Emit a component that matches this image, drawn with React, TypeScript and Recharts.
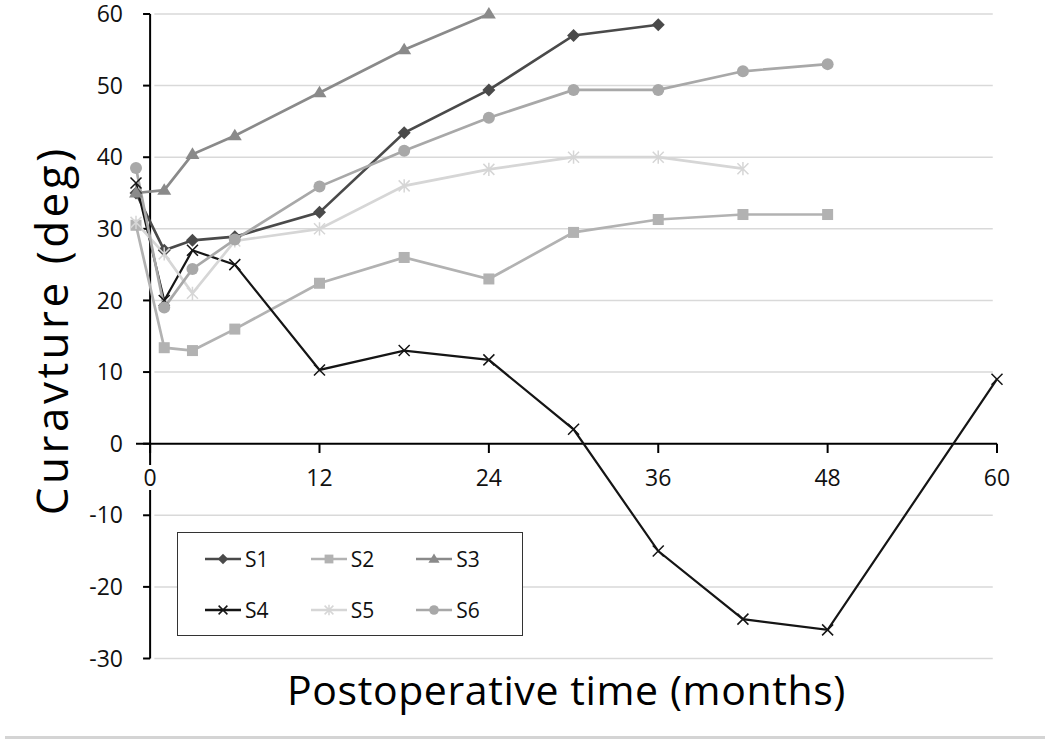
import React from 'react';
import { LineChart, Line, XAxis, YAxis, ReferenceLine, Legend } from 'recharts';

// months after surgery (-1 = preoperative)
const months = [-1, 1, 3, 6, 12, 18, 24, 30, 36, 42, 48, 60];
const s1 = [35, 27, 28.4, 28.9, 32.3, 43.4, 49.4, 57, 58.5, null, null, null];
const s2 = [30.5, 13.4, 13, 16, 22.4, 26, 23, 29.5, 31.3, 32, 32, null];
const s3 = [35, 35.4, 40.4, 43, 49, 55, 60, null, null, null, null, null];
const s4 = [36.4, 20, 27, 25, 10.3, 13, 11.7, 2, -15, -24.5, -26, 9];
const s5 = [30.9, 26.5, 21, 28.3, 30, 36, 38.3, 40, 40, 38.4, null, null];
const s6 = [38.5, 19, 24.4, 28.5, 35.9, 40.9, 45.5, 49.4, 49.4, 52, 53, null];

const xTicks = [0, 12, 24, 36, 48, 60];
const yTicks = [-30, -20, -10, 0, 10, 20, 30, 40, 50, 60];

const data = months.map((m, i) => ({
  m,
  S1: s1[i],
  S2: s2[i],
  S3: s3[i],
  S4: s4[i],
  S5: s5[i],
  S6: s6[i],
}));

const FONT = '"Open Sans", sans-serif';

type Shape = 'diamond' | 'square' | 'triangle' | 'x' | 'star' | 'circle';

const series: { key: string; color: string; shape: Shape; width: number }[] = [
  { key: 'S1', color: '#4a4a4a', shape: 'diamond', width: 2.7 },
  { key: 'S2', color: '#b2b2b2', shape: 'square', width: 2.7 },
  { key: 'S3', color: '#8a8a8a', shape: 'triangle', width: 2.7 },
  { key: 'S4', color: '#151515', shape: 'x', width: 2.2 },
  { key: 'S5', color: '#d6d6d6', shape: 'star', width: 2.7 },
  { key: 'S6', color: '#a8a8a8', shape: 'circle', width: 2.7 },
];

function Marker({ shape, color, cx, cy, s = 1 }: { shape: Shape; color: string; cx: number; cy: number; s?: number }) {
  switch (shape) {
    case 'diamond': {
      const r = 6.5 * s;
      return <path d={`M${cx},${cy - r}L${cx + r},${cy}L${cx},${cy + r}L${cx - r},${cy}Z`} fill={color} />;
    }
    case 'square': {
      const r = 5.5 * s;
      return <rect x={cx - r} y={cy - r} width={2 * r} height={2 * r} fill={color} />;
    }
    case 'triangle': {
      const r = 7 * s;
      return <path d={`M${cx},${cy - r}L${cx + r},${cy + r * 0.65}L${cx - r},${cy + r * 0.65}Z`} fill={color} />;
    }
    case 'circle':
      return <circle cx={cx} cy={cy} r={6 * s} fill={color} />;
    case 'x': {
      const r = 5.5 * s;
      return (
        <path d={`M${cx - r},${cy - r}L${cx + r},${cy + r}M${cx - r},${cy + r}L${cx + r},${cy - r}`} stroke={color} strokeWidth={1.5} />
      );
    }
    case 'star': {
      const r = 5.5 * s;
      return (
        <path
          d={`M${cx - r},${cy - r}L${cx + r},${cy + r}M${cx - r},${cy + r}L${cx + r},${cy - r}M${cx},${cy - r * 1.2}L${cx},${cy + r * 1.2}`}
          stroke={color}
          strokeWidth={1.5}
        />
      );
    }
  }
  return null;
}

function makeDot(shape: Shape, color: string) {
  return (props: any) => {
    const { cx, cy, value, index } = props;
    if (value == null || cx == null || cy == null) return <g key={index} />;
    return (
      <g key={index}>
        <Marker shape={shape} color={color} cx={cx} cy={cy} />
      </g>
    );
  };
}

function LegendBox() {
  return (
    <div
      style={{
        width: 346,
        height: 104,
        border: '1.5px solid #333',
        background: '#fff',
        display: 'grid',
        gridTemplateColumns: 'repeat(3, 1fr)',
        alignItems: 'center',
        paddingLeft: 27,
        boxSizing: 'border-box',
        fontFamily: FONT,
        fontSize: 21,
        lineHeight: '24px',
        color: '#111',
      }}
    >
      {series.map((s) => (
        <div key={s.key} style={{ display: 'flex', alignItems: 'center' }}>
          <svg width={36} height={16} style={{ marginRight: 4 }}>
            <line x1={0} y1={8} x2={36} y2={8} stroke={s.color} strokeWidth={2.5} />
            <Marker shape={s.shape} color={s.color} cx={18} cy={8} s={0.8} />
          </svg>
          <span style={{ fontSize: 21 }}>{s.key}</span>
        </div>
      ))}
    </div>
  );
}

export default function App() {
  return (
    <div style={{ position: 'absolute', left: 0, top: 0, width: 1050, height: 743, background: '#fff' }}>
      <LineChart width={1050} height={743} data={data} margin={{ top: 14, right: 53, bottom: 0, left: 0 }}>
        {yTicks
          .filter((v) => v !== 0)
          .map((v) => (
            <ReferenceLine
              key={`g${v}`}
              segment={[
                { x: 0.3, y: v },
                { x: 59.7, y: v },
              ]}
              stroke="#d9d9d9"
              strokeWidth={1.5}
            />
          ))}
        <XAxis
          type="number"
          dataKey="m"
          domain={[-1, 60]}
          ticks={xTicks}
          tick={false}
          axisLine={false}
          tickLine={false}
          height={84.5}
          label={{
            value: 'Postoperative time (months)',
            position: 'insideBottom',
            offset: 38,
            style: { fontFamily: FONT, fontSize: 41, letterSpacing: 0.6, fill: '#000' },
          }}
        />
        <YAxis
          type="number"
          domain={[-30, 60]}
          ticks={yTicks}
          width={136}
          axisLine={false}
          tickLine={false}
          tickSize={6}
          tickMargin={7}
          interval={0}
          tick={{ fontFamily: FONT, fontSize: 23, fill: '#111' }}
          label={{
            value: 'Curavture (deg)',
            angle: -90,
            position: 'insideLeft',
            offset: 52,
            dy: -6,
            style: { textAnchor: 'middle', fontFamily: FONT, fontSize: 44, letterSpacing: 3.5, fill: '#000' },
          }}
        />
        <ReferenceLine x={0} stroke="#000" strokeWidth={2} />
        <ReferenceLine y={0} stroke="#000" strokeWidth={2} />
        {yTicks.map((v) => (
          <ReferenceLine
            key={`yt${v}`}
            segment={[
              { x: -0.5, y: v },
              { x: 0, y: v },
            ]}
            stroke="#000"
            strokeWidth={2}
          />
        ))}
        {xTicks.map((t) => (
          <ReferenceLine
            key={`xt${t}`}
            segment={[
              { x: t, y: 0 },
              { x: t, y: -1.3 },
            ]}
            stroke="#000"
            strokeWidth={2}
            label={{
              value: String(t),
              position: 'bottom',
              offset: 17,
              style: { fontFamily: FONT, fontSize: 23, fill: '#111', stroke: '#fff', strokeWidth: 8, paintOrder: 'stroke' },
            }}
          />
        ))}
        {series.map((s) => (
          <Line
            key={s.key}
            type="linear"
            dataKey={s.key}
            stroke={s.color}
            strokeWidth={s.width}
            dot={makeDot(s.shape, s.color)}
            activeDot={false}
            isAnimationActive={false}
          />
        ))}
        <Legend
          layout="horizontal"
          verticalAlign="middle"
          align="center"
          content={() => <LegendBox />}
          wrapperStyle={{ left: 177, top: 532, width: 346, height: 104 }}
        />
      </LineChart>
      <div style={{ position: 'absolute', left: 5, right: 5, top: 736, height: 3, background: '#d4d4d4' }} />
    </div>
  );
}
